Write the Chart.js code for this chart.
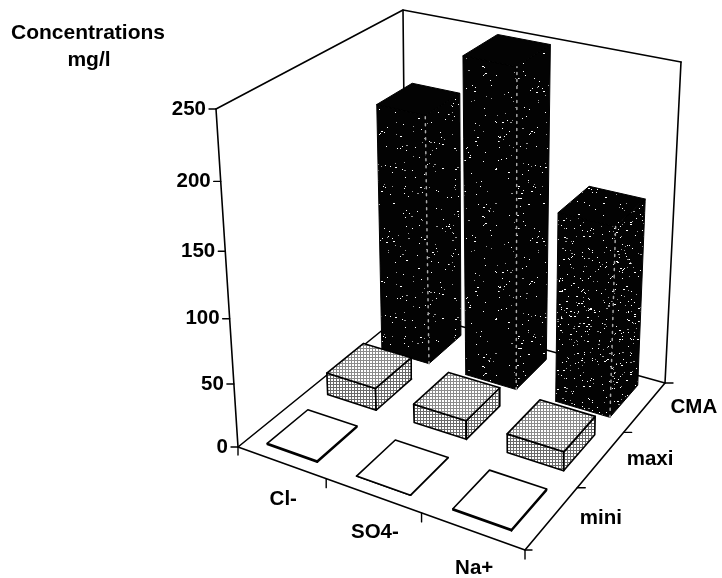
<!DOCTYPE html>
<html><head><meta charset="utf-8">
<style>html,body{margin:0;padding:0;background:#fff}canvas{display:block}</style>
<script src="https://cdn.jsdelivr.net/npm/chart.js@4"></script>
</head><body><canvas id="c" width="722" height="578"></canvas>
<script>
// ---- data ----
const categories = ["Cl-", "SO4-", "Na+"];
const rows = ["mini", "maxi", "CMA"];
const miniValues = [1, 0, 1];
const maxiValues = [18, 15, 15];
const cmaValues = [200, 250, 150];
const valueTicks = [0, 50, 100, 150, 200, 250];
const yTitle = ["Concentrations", "mg/l"];
const seriesValues = [miniValues, maxiValues, cmaValues];
const VALUE_MAX = 250;

// ---- view of the 3D box (floor and ceiling quads on the canvas) ----
const floorQuad = [[238,447],[525,550],[665,383],[406,311]];
const ceilQuad  = [[216,109],[522,192],[681,62],[403,10]];
const VERT_PERSP = 1.09, GAP_U = 0.215, GAP_W = 0.17;

function homography(q){
  const [p0,p1,p2,p3]=q;
  const dx1=p1[0]-p2[0],dx2=p3[0]-p2[0],sx=p0[0]-p1[0]+p2[0]-p3[0];
  const dy1=p1[1]-p2[1],dy2=p3[1]-p2[1],sy=p0[1]-p1[1]+p2[1]-p3[1];
  const den=dx1*dy2-dx2*dy1;
  const g=(sx*dy2-dx2*sy)/den,h=(dx1*sy-sx*dy1)/den;
  const a=p1[0]-p0[0]+g*p1[0],b=p3[0]-p0[0]+h*p3[0],c=p0[0];
  const d=p1[1]-p0[1]+g*p1[1],e=p3[1]-p0[1]+h*p3[1],f=p0[1];
  return (u,w)=>{const z=g*u+h*w+1;return [(a*u+b*w+c)/z,(d*u+e*w+f)/z];};
}
const floorH=homography(floorQuad), ceilH=homography(ceilQuad);
function project(u,w,v){
  const s=v/VALUE_MAX, t=s/(s+VERT_PERSP*(1-s));
  const A=floorH(u,w),B=ceilH(u,w);
  return {x:A[0]+(B[0]-A[0])*t,y:A[1]+(B[1]-A[1])*t};
}

// ---- textures ----
function tile(w,h,draw){const c=document.createElement('canvas');c.width=w;c.height=h;draw(c.getContext('2d'));return c.getContext('2d').createPattern(c,'repeat');}
const hatch=tile(3,3,x=>{x.fillStyle='#fff';x.fillRect(0,0,3,3);x.fillStyle='#6a6a6a';x.fillRect(0,0,3,1);x.fillRect(0,0,1,3);});
const hatchTop=tile(3,3,x=>{x.fillStyle='#fff';x.fillRect(0,0,3,3);x.fillStyle='#8a8a8a';x.fillRect(0,0,3,1);x.fillRect(0,0,1,3);});
function speckle(n){return tile(150,150,x=>{x.fillStyle='#030303';x.fillRect(0,0,150,150);let s=12345+n;
  for(let i=0;i<n;i++){s=(s*1103515245+12345)&0x7fffffff;const px=(s>>8)%150;s=(s*1103515245+12345)&0x7fffffff;const py=(s>>8)%150;
    x.fillStyle=(i%3)?'#fff':'#999';x.fillRect(px,py,1+(i%5===0),1);}});}
const darkFace=speckle(300), darkFaceDense=speckle(650), darkTop=speckle(0), darkTopDense=speckle(1100);

// ---- build polygons and lines from the data ----
const datasets=[];
function add(pts,o){datasets.push(Object.assign({data:pts,showLine:true,tension:0,pointRadius:0,pointHoverRadius:0,borderColor:'#000',borderWidth:1.6,fill:false,borderJoinStyle:'round',borderCapStyle:'round',spanGaps:false},o));}
function face(pts,fillStyle,edge,lw){add([...pts,pts[0]],{fill:'shape',backgroundColor:fillStyle,borderColor:edge,borderWidth:lw});}

// floor + walls
add([[0,0],[1,0],[1,1],[0,1],[0,0]].map(uv=>project(uv[0],uv[1],0)),{});
add([project(0,0,VALUE_MAX),project(0,1,VALUE_MAX),project(1,1,VALUE_MAX)],{});
add([project(0,0,0),project(0,0,VALUE_MAX)],{});
add([project(0,1,0),project(0,1,VALUE_MAX)],{});
add([project(1,1,0),project(1,1,VALUE_MAX)],{});
// ticks
valueTicks.forEach(v=>{const p=project(0,0,v);add([p,{x:p.x-7,y:p.y}],{borderWidth:1.4});});
categories.forEach((_,i)=>{const p=project((i+1)/3,0,0);add([p,{x:p.x,y:p.y+9}],{borderWidth:1.4});});
add([project(0,0,0),{x:project(0,0,0).x,y:project(0,0,0).y+8}],{borderWidth:1.4});
rows.forEach((_,j)=>{const p=project(1,(j+1)/3,0);add([p,{x:p.x+8,y:p.y}],{borderWidth:1.4});});
add([project(1,0,0),{x:project(1,0,0).x+7,y:project(1,0,0).y}],{borderWidth:1.4});

// bars: back rows first, left to right
for(let j=rows.length-1;j>=0;j--){
  categories.forEach((_,i)=>{
    const v=seriesValues[j][i];
    const u0=(i+GAP_U)/3,u1=(i+1-GAP_U)/3,w0=(j+GAP_W)/3,w1=(j+1-GAP_W)/3;
    const dark=j===2, white=j===0;
    const dense=dark&&i===2;
    const sideFill=dark?(dense?darkFaceDense:darkFace):(white?'#fff':hatch);
    const topFill=dark?(dense?darkTopDense:darkTop):(white?'#fff':hatchTop);
    const lw=dark?1:1.6;
    face([project(u0,w0,0),project(u1,w0,0),project(u1,w0,v),project(u0,w0,v)],sideFill,'#000',lw);
    face([project(u1,w0,0),project(u1,w1,0),project(u1,w1,v),project(u1,w0,v)],sideFill,'#000',lw);
    face([project(u0,w0,v),project(u1,w0,v),project(u1,w1,v),project(u0,w1,v)],topFill,'#000',lw);
    if(dark) add([project(u1,w0,0),project(u1,w0,v)],{borderColor:'#aaa',borderWidth:1.5,borderDash:[2,5]});
  });
}
// first dataset in the list must be painted first
datasets.forEach((d,i)=>{d.order=datasets.length-i;});

const textPlugin={id:'axisText',afterDraw(chart){
  const {ctx,scales:{x,y}}=chart;
  const px=p=>[x.getPixelForValue(p.x),y.getPixelForValue(p.y)];
  ctx.save();ctx.fillStyle='#000';ctx.textBaseline='middle';
  ctx.font='bold 20.5px "Liberation Sans"';
  ctx.textAlign='right';
  valueTicks.forEach(v=>{const [a,b]=px(project(0,0,v));ctx.fillText(String(v),a-10,b);});
  ctx.textAlign='center';
  categories.forEach((c,i)=>{const [a,b]=px(project((i+.5)/3,0,0));ctx.fillText(c,a+2,b+37);});
  rows.forEach((r,j)=>{const [a,b]=px(project(1,(j+.5)/3,0));ctx.fillText(r,a+49,b);});
  ctx.font='bold 21px "Liberation Sans"';
  ctx.fillText(yTitle[0],88,33);ctx.fillText(yTitle[1],89,60);
  ctx.restore();
}};

new Chart(document.getElementById('c'),{
  type:'scatter',
  data:{datasets},
  plugins:[textPlugin],
  options:{responsive:false,animation:false,events:[],
    layout:{padding:0},
    plugins:{legend:{display:false},tooltip:{enabled:false},title:{display:false}},
    scales:{
      x:{type:'linear',display:false,min:0,max:722},
      y:{type:'linear',display:false,min:0,max:578,reverse:true}
    }
  }
});
</script></body></html>
